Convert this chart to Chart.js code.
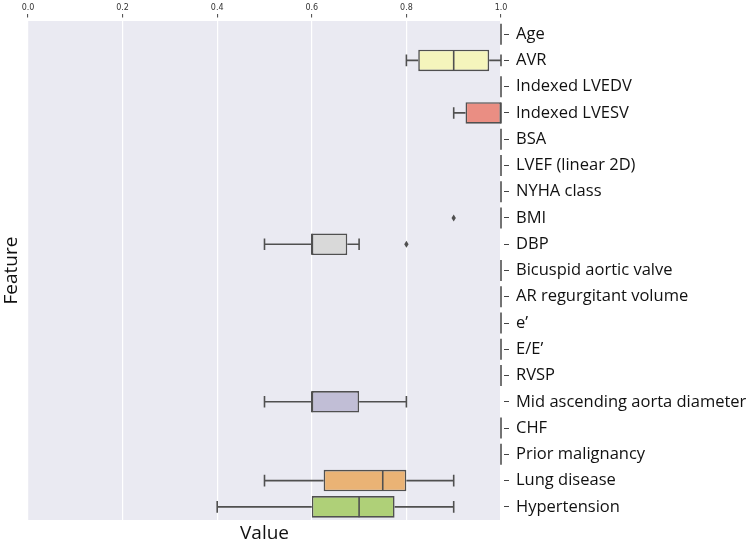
<!DOCTYPE html>
<html lang="en">
<head>
    <meta charset="UTF-8">
    <script src="https://cdn.jsdelivr.net/npm/chart.js@4.4.0/dist/chart.umd.min.js"></script>
    <title>Feature boxplot</title>
    <style>
        body { margin: 0; background: #fff; }
        #wrap { width: 750px; height: 545px; }
    </style>
</head>
<body>
    <div id="wrap"><canvas id="myChart"></canvas></div>
    <script>
        // categories, top to bottom
        const features = ['Age', 'AVR', 'Indexed LVEDV', 'Indexed LVESV', 'BSA', 'LVEF (linear 2D)', 'NYHA class',
            'BMI', 'DBP', 'Bicuspid aortic valve', 'AR regurgitant volume', 'e\u2019', 'E/E\u2019', 'RVSP',
            'Mid ascending aorta diameter', 'CHF', 'Prior malignancy', 'Lung disease', 'Hypertension'];

        // box statistics per feature
        const whiskerLow  = [1, 0.8,   1, 0.9,   1, 1, 1, 1, 0.5,   1, 1, 1, 1, 1, 0.5, 1, 1, 0.5,   0.4];
        const q1          = [1, 0.825, 1, 0.925, 1, 1, 1, 1, 0.6,   1, 1, 1, 1, 1, 0.6, 1, 1, 0.625, 0.6];
        const medians     = [1, 0.9,   1, 1,     1, 1, 1, 1, 0.6,   1, 1, 1, 1, 1, 0.6, 1, 1, 0.75,  0.7];
        const q3          = [1, 0.975, 1, 1,     1, 1, 1, 1, 0.675, 1, 1, 1, 1, 1, 0.7, 1, 1, 0.8,   0.775];
        const whiskerHigh = [1, 1,     1, 1,     1, 1, 1, 1, 0.7,   1, 1, 1, 1, 1, 0.8, 1, 1, 0.9,   0.9];
        const outliers    = [[], [], [], [], [], [], [], [0.9], [0.8], [], [], [], [], [], [], [], [], [], []];

        const xTicks = [0, 0.2, 0.4, 0.6, 0.8, 1.0];

        const boxColors = ['#8fcfc4', '#f5f5bc', '#c1bed6', '#ea8e83', '#89b1cf', '#eab375', '#afd078', '#f5cde0',
            '#d9d9d9', '#b888b9', '#cce8c8', '#f5e47e', '#8fcfc4', '#f5f5bc', '#c1bed6', '#ea8e83', '#89b1cf',
            '#eab375', '#afd078'];
        const edge = '#505050';

        // grey panel behind the plot
        const panelBg = {
            id: 'panelBg',
            beforeDraw(chart) {
                const a = chart.chartArea, c = chart.ctx;
                c.save();
                c.fillStyle = '#eaeaf2';
                c.fillRect(a.left, a.top, a.right - a.left, a.bottom - a.top);
                c.restore();
            }
        };

        // whiskers, caps, medians, outliers and collapsed boxes
        const boxExtras = {
            id: 'boxExtras',
            afterDatasetsDraw(chart) {
                const c = chart.ctx, xs = chart.scales.x, ys = chart.scales.y;
                const step = Math.abs(ys.getPixelForValue(1) - ys.getPixelForValue(0));
                const half = step * 0.8 / 2;
                const cap = half * 0.55;
                c.save();
                c.strokeStyle = edge;
                c.fillStyle = edge;
                c.lineWidth = 1.6;
                features.forEach((f, i) => {
                    const y = ys.getPixelForValue(i);
                    const pLo = xs.getPixelForValue(whiskerLow[i]);
                    const pQ1 = xs.getPixelForValue(q1[i]);
                    const pMed = xs.getPixelForValue(medians[i]);
                    const pQ3 = xs.getPixelForValue(q3[i]);
                    const pHi = xs.getPixelForValue(whiskerHigh[i]);
                    c.beginPath();
                    if (pQ1 - pLo > 0.5) {
                        c.moveTo(pLo, y); c.lineTo(pQ1, y);
                        c.moveTo(pLo, y - cap); c.lineTo(pLo, y + cap);
                    }
                    if (pHi - pQ3 > 0.5) {
                        c.moveTo(pQ3, y); c.lineTo(pHi, y);
                        c.moveTo(pHi, y - cap); c.lineTo(pHi, y + cap);
                    }
                    // median (also the whole box when it collapses to a line)
                    c.moveTo(pMed, y - half); c.lineTo(pMed, y + half);
                    c.stroke();
                    outliers[i].forEach(v => {
                        const px = xs.getPixelForValue(v);
                        c.beginPath();
                        c.moveTo(px, y - 3.5); c.lineTo(px + 2.2, y);
                        c.lineTo(px, y + 3.5); c.lineTo(px - 2.2, y);
                        c.closePath();
                        c.fill();
                    });
                });
                c.restore();
            }
        };

        const ctx = document.getElementById('myChart').getContext('2d');
        const myChart = new Chart(ctx, {
            type: 'bar',
            data: {
                labels: features,
                datasets: [{
                    label: 'IQR',
                    data: features.map((f, i) => [q1[i], q3[i]]),
                    backgroundColor: boxColors,
                    borderColor: edge,
                    borderWidth: 1.6,
                    borderSkipped: false,
                    barPercentage: 0.82,
                    categoryPercentage: 1,
                    xAxisID: 'x',
                    yAxisID: 'y'
                }]
            },
            options: {
                indexAxis: 'y',
                responsive: true,
                maintainAspectRatio: false,
                animation: false,
                layout: { padding: 0 },
                plugins: { legend: { display: false }, tooltip: { enabled: false } },
                scales: {
                    x: {
                        position: 'top',
                        min: 0, max: 1,
                        afterBuildTicks: s => { s.ticks = xTicks.map(v => ({ value: v })); },
                        afterFit: s => { s.height = 21; },
                        ticks: {
                            callback: v => v.toFixed(1),
                            font: { family: 'DejaVu Sans', size: 8 },
                            color: '#333',
                            padding: 1,
                            maxRotation: 0
                        },
                        grid: {
                            color: '#ffffff', lineWidth: 1.2,
                            tickColor: '#444', tickLength: 7, tickWidth: 1,
                            tickBorderDash: [3.5, 20]
                        },
                        border: { display: false }
                    },
                    xb: {
                        position: 'bottom',
                        min: 0, max: 1,
                        afterFit: s => { s.height = 25; },
                        ticks: { display: false },
                        grid: { display: false },
                        border: { display: false },
                        title: { display: true, text: 'Value', color: '#111', padding: { top: 2, bottom: 0 },
                            font: { family: 'Open Sans', size: 19 } }
                    },
                    y: {
                        position: 'right',
                        afterFit: s => { s.width = 249; },
                        ticks: {
                            font: { family: 'Open Sans', size: 16.5 },
                            color: '#111',
                            padding: 6
                        },
                        grid: {
                            offset: false,
                            drawOnChartArea: false,
                            tickColor: '#444', tickLength: 9, tickWidth: 1,
                            tickBorderDash: [0, 3, 5, 50]
                        },
                        border: { display: false }
                    },
                    yl: {
                        position: 'left',
                        afterFit: s => { s.width = 28; },
                        ticks: { display: false },
                        grid: { display: false },
                        border: { display: false },
                        title: { display: true, text: 'Feature', color: '#111', padding: 0,
                            font: { family: 'Open Sans', size: 19 } }
                    }
                }
            },
            plugins: [panelBg, boxExtras]
        });
    </script>
</body>
</html>
